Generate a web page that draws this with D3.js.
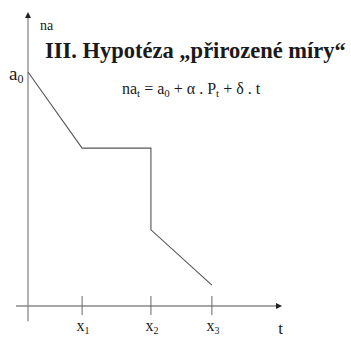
<!DOCTYPE html>
<html><head><meta charset="utf-8">
<script src="https://cdn.jsdelivr.net/npm/d3@7"></script>
<style>html,body{margin:0;padding:0;background:#fff;}svg{display:block;}</style>
</head><body>
<script>
// Data (abstract units)
const pathT = [0, 2.13, 4.84, 4.84, 7.24];
const pathNa = [7.96, 5.37, 5.37, 2.59, 0.71];
const tickNames = ["x", "x", "x"];
const tickSubs = ["1", "2", "3"];
const tickValues = [2.13, 4.84, 7.24];
const title = "III. Hypotéza „přirozené míry“";
const yLabel = "na";
const xLabel = "t";

const W = 351, H = 337;
const svg = d3.select("body").append("svg").attr("width", W).attr("height", H);
const x = d3.scaleLinear().domain([0, 10]).range([28, 282]);
const y = d3.scaleLinear().domain([0, 10]).range([306, 12]);
const axisCol = "#888", lineCol = "#555", txt = "#1a1a1a";
const serif = "'Liberation Serif','Times New Roman',serif";

// x axis
svg.append("line").attr("x1", x(-0.47)).attr("x2", x(9.95)).attr("y1", y(0)).attr("y2", y(0))
  .attr("stroke", axisCol).attr("stroke-width", 1.3);
svg.append("path").attr("d", d3.line()([[x(10),y(0)],[x(10)-6,y(0)-3],[x(10)-6,y(0)+3]]) + "Z").attr("fill", "#222");
// y axis
svg.append("line").attr("x1", x(0)).attr("x2", x(0)).attr("y1", y(-0.52)).attr("y2", y(9.9))
  .attr("stroke", axisCol).attr("stroke-width", 1.3);
svg.append("path").attr("d", d3.line()([[x(0),y(10)],[x(0)-3,y(10)+6],[x(0)+3,y(10)+6]]) + "Z").attr("fill", "#222");

// ticks
svg.selectAll(".tk").data(tickValues).enter().append("line")
  .attr("x1", d => x(d)).attr("x2", d => x(d)).attr("y1", y(0) - 10).attr("y2", y(0) + 9)
  .attr("stroke", "#666").attr("stroke-width", 1);
const tl = svg.selectAll(".tl").data(tickValues).enter().append("text")
  .attr("x", d => x(d) + 1).attr("y", 331).attr("text-anchor", "middle")
  .attr("font-family", serif).attr("font-size", 16).attr("fill", txt);
tl.append("tspan").text((d, i) => tickNames[i]);
tl.append("tspan").attr("dy", 2.5).attr("font-size", 10).text((d, i) => tickSubs[i]);

svg.append("text").attr("x", x(9.95)).attr("y", 334).attr("text-anchor", "middle")
  .attr("font-family", serif).attr("font-size", 17).attr("fill", txt).text(xLabel);
svg.append("text").attr("x", 40).attr("y", 30)
  .attr("font-family", serif).attr("font-size", 14).attr("fill", txt).text(yLabel);

// a0 label
const a0 = svg.append("text").attr("x", 9).attr("y", 80).attr("font-family", serif).attr("font-size", 19).attr("fill", txt);
a0.append("tspan").text("a");
a0.append("tspan").attr("dy", 3).attr("font-size", 12).text("0");

// title, sized to fit its width in the reference
const tt = svg.append("text").attr("x", 45).attr("y", 57.5).attr("font-family", serif).attr("font-weight", "bold")
  .attr("font-size", 24).attr("fill", txt).text(title);
const tw = tt.node().getComputedTextLength();
tt.attr("font-size", Math.min(24, 24 * 301 / tw));

// formula
const f = svg.append("text").attr("x", 122).attr("y", 94).attr("font-family", serif).attr("font-size", 16).attr("fill", txt);
const parts = [["na",0],["t",1],[" = a",0],["0",1],[" + α . P",0],["t",1],[" + δ . t",0]];
let prev = 0;
parts.forEach(([s, sub]) => {
  const dy = sub ? 3 : (prev ? -3 : 0);
  f.append("tspan").attr("dy", dy).attr("font-size", sub ? 11 : 16).text(s);
  prev = sub;
});

// data line
svg.append("path").datum(pathT.map((t, i) => [t, pathNa[i]]))
  .attr("d", d3.line().x(d => x(d[0])).y(d => y(d[1])))
  .attr("fill", "none").attr("stroke", lineCol).attr("stroke-width", 1.1);
</script>
</body></html>
